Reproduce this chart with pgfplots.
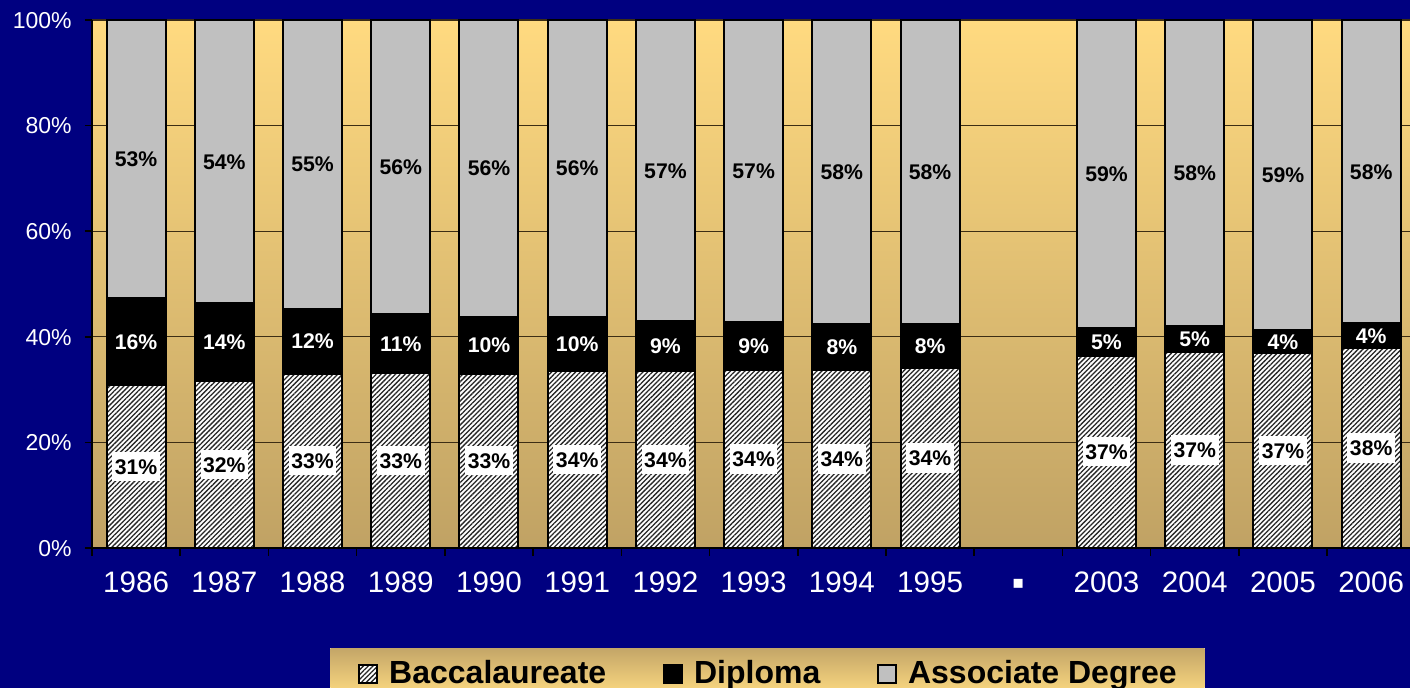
\documentclass[border=0pt]{standalone}
\usepackage{pgfplots}
\pgfplotsset{compat=1.18}
\usepackage{pgfplotstable}
\usetikzlibrary{patterns.meta}
\usepackage{fontspec}
\setmainfont{Liberation Sans}
\newfontfamily\dejavu{DejaVu Sans}
\definecolor{bgnavy}{RGB}{0,0,128}
\definecolor{plottop}{RGB}{255,218,128}
\definecolor{plotbot}{RGB}{192,162,100}
\definecolor{gridc}{RGB}{60,45,20}
\definecolor{assocgray}{RGB}{192,192,192}
\definecolor{legtop}{RGB}{196,166,104}
\definecolor{legbot}{RGB}{255,220,130}

\pgfplotstableread{
x b d a
0 30.9 16.4 52.7
1 31.6 14.8 53.6
2 33.0 12.3 54.7
3 33.1 11.2 55.7
4 33.0 10.8 56.2
5 33.5 10.3 56.2
6 33.5 9.5 57.0
7 33.7 9.1 57.2
8 33.7 8.7 57.6
9 34.1 8.3 57.6
11 36.4 5.3 58.3
12 37.1 4.9 58.0
13 36.9 4.4 58.7
14 37.9 4.7 57.4
}\shares

\pgfplotstableread{
x yb lb yd ld ya la
0 15.45 31 39.10 16 73.65 53
1 15.80 32 39.00 14 73.20 54
2 16.50 33 39.15 12 72.65 55
3 16.55 33 38.70 11 72.15 56
4 16.50 33 38.40 10 71.90 56
5 16.75 34 38.65 10 71.90 56
6 16.75 34 38.25 9 71.50 57
7 16.85 34 38.25 9 71.40 57
8 16.85 34 38.05 8 71.20 58
9 17.05 34 38.25 8 71.20 58
11 18.20 37 39.05 5 70.85 59
12 18.55 37 39.55 5 71.00 58
13 18.45 37 39.10 4 70.65 59
14 18.95 38 40.25 4 71.30 58
}\labels

\pgfplotsset{
  sqlegend/.style={legend image code/.code={\draw[##1, line width=0.8pt] (0pt,-5.3pt) rectangle (9pt,3.7pt);}},
}

\begin{document}
\begin{tikzpicture}
\useasboundingbox (-46pt,-70pt) rectangle (659pt,274pt);
\fill[bgnavy] (-46pt,-70pt) rectangle (659pt,274pt);
\begin{axis}[
  at={(0pt,0pt)}, anchor=south west,
  scale only axis, width=659pt, height=264pt,
  xmin=-0.5, xmax=14.44, ymin=0, ymax=100,
  ybar stacked, bar width=0.669,
  axis background/.style={top color=plottop, bottom color=plotbot},
  axis x line*=bottom, axis y line*=left,
  axis line style={-, black, line width=1.2pt},
  ymajorgrids, major grid style={gridc, line width=0.6pt},
  ytick={0,20,40,60,80,100},
  yticklabels={0\%,20\%,40\%,60\%,80\%,100\%},
  xtick={0,...,14},
  xticklabels={1986,1987,1988,1989,1990,1991,1992,1993,1994,1995,{\raisebox{2.2pt}{\dejavu\fontsize{9}{9}\selectfont ▪}},2003,2004,2005,2006},
  minor xtick={-0.5,0.5,...,13.5},
  tick align=outside,
  major tick length=3.5pt, minor tick length=4pt,
  tick style={black, line width=0.75pt},
  every major x tick/.append style={draw=none},
  yticklabel style={font=\fontsize{11.5}{12}\selectfont, text=white, inner sep=0pt, text height=8.3pt, text depth=0pt, xshift=-6.5pt},
  xticklabel style={font=\fontsize{14.8}{15}\selectfont, text=white, inner sep=0pt, text height=10.6pt, text depth=0pt, yshift=-8pt},
  legend columns=3,
  legend style={
    at={(0.1806,-0.1894)}, anchor=north west,
    draw=none, top color=legtop, bottom color=legbot,
    inner xsep=14pt, inner ysep=6.3pt,
    font=\fontsize{16}{18}\selectfont\bfseries,
    nodes={inner sep=0pt, text height=11.5pt, text depth=0pt},
    /tikz/every even column/.append style={column sep=28.5pt},
    /tikz/every odd column/.append style={column sep=5.6pt},
  },
]
\addplot[fill=white, draw=black, line width=1pt,
  postaction={pattern={Lines[angle=45,distance=1.7pt,line width=0.65pt]}, pattern color=black!85},
  sqlegend] table[x=x,y=b]{\shares};
\addlegendentry{Baccalaureate}
\addplot[fill=black, draw=black, line width=1pt, sqlegend] table[x=x,y=d]{\shares};
\addlegendentry{Diploma}
\addplot[fill=assocgray, draw=black, line width=1pt, sqlegend] table[x=x,y=a]{\shares};
\addlegendentry{Associate Degree}
\end{axis}

\begin{axis}[
  at={(0pt,0pt)}, anchor=south west,
  scale only axis, width=659pt, height=264pt,
  xmin=-0.5, xmax=14.44, ymin=0, ymax=100,
  hide axis, clip=false,
  nodes near coords={\pgfmathprintnumber[fixed,precision=0,assume math mode=true]{\pgfplotspointmeta}\%},
  every node near coord/.append style={anchor=center, font=\fontsize{10.6}{12}\selectfont\bfseries, inner sep=0pt, text height=7.6pt, text depth=0pt},
]
\addplot[only marks, mark=none, point meta=explicit,
  every node near coord/.append style={fill=white, text=black, inner xsep=1.3pt, inner ysep=3.5pt}]
  table[x=x,y=yb,meta=lb]{\labels};
\addplot[only marks, mark=none, point meta=explicit,
  every node near coord/.append style={text=white}]
  table[x=x,y=yd,meta=ld]{\labels};
\addplot[only marks, mark=none, point meta=explicit,
  every node near coord/.append style={text=black}]
  table[x=x,y=ya,meta=la]{\labels};
\end{axis}
\end{tikzpicture}
\end{document}
